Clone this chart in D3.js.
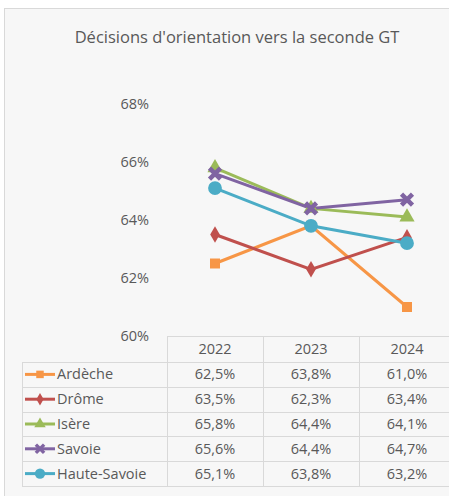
<!DOCTYPE html>
<html>
<head>
<meta charset="utf-8">
<script src="https://cdn.jsdelivr.net/npm/d3@7"></script>
<style>
  body { margin: 0; background: #fff; }
  svg { display: block; font-family: "Open Sans", sans-serif; }
</style>
</head>
<body>
<svg width="449" height="496"></svg>
<script>
// data
const years = ["2022", "2023", "2024"];
const seriesNames = ["Ardèche", "Drôme", "Isère", "Savoie", "Haute-Savoie"];
const ardeche = [62.5, 63.8, 61.0];
const drome = [63.5, 62.3, 63.4];
const isere = [65.8, 64.4, 64.1];
const savoie = [65.6, 64.4, 64.7];
const hauteSavoie = [65.1, 63.8, 63.2];
const yTicks = [60, 62, 64, 66, 68];

const colors = ["#F79646", "#C0504D", "#9BBB59", "#8064A2", "#4BACC6"];
const symbols = [d3.symbolSquare, d3.symbolDiamond, d3.symbolTriangle, d3.symbolCross, d3.symbolCircle];
const symSizes = [100, 80, 100, 0, 150];

const series = [ardeche, drome, isere, savoie, hauteSavoie].map((v, i) => ({
    name: seriesNames[i], values: v, color: colors[i], symbol: symbols[i], size: symSizes[i]
}));

const fr = d3.formatLocale({decimal: ",", thousands: " ", grouping: [3], currency: ["", " €"]});
const fmt = d => fr.format(".1f")(d) + "%";

let svg = d3.select("svg");

// chart box
svg.append("rect")
    .attr("x", 4.5).attr("y", 8.5)
    .attr("width", 460).attr("height", 500)
    .attr("fill", "#f7f7f7")
    .attr("stroke", "#d9d9d9");

svg.append("text")
    .attr("x", 237).attr("y", 43)
    .attr("text-anchor", "middle")
    .style("font-size", "16.5px")
    .attr("fill", "#595959")
    .text("Décisions d'orientation vers la seconde GT");

let xScale = d3.scaleBand().domain(years).range([167, 455]);
let yScale = d3.scaleLinear().domain([60, 68]).range([336, 104]);
let colW = xScale.bandwidth();

// y axis
let yAxis = svg.append("g")
    .attr("transform", "translate(152,0)")
    .call(d3.axisLeft(yScale).tickValues(yTicks).tickSize(0).tickFormat(d => d + "%"));
yAxis.select(".domain").remove();
yAxis.selectAll("text")
    .attr("fill", "#595959")
    .style("font-size", "14.5px")
    .style("font-family", "Open Sans, sans-serif");

// lines
let line = d3.line()
    .x((d, i) => xScale(years[i]) + colW / 2)
    .y(d => yScale(d));

series.forEach(s => {
    svg.append("path")
        .datum(s.values)
        .attr("d", line)
        .attr("fill", "none")
        .attr("stroke", s.color)
        .attr("stroke-width", 3);
});

function drawMarker(g, s, x, y, scale) {
    if (s.symbol === d3.symbolCross) {
        let r = 5.5 * scale;
        g.append("path")
            .attr("d", `M${x - r},${y - r}L${x + r},${y + r}M${x - r},${y + r}L${x + r},${y - r}`)
            .attr("stroke", s.color)
            .attr("stroke-width", 4.5 * scale)
            .attr("fill", "none");
    } else {
        g.append("path")
            .attr("d", d3.symbol().type(s.symbol).size(s.size * scale * scale)())
            .attr("transform", `translate(${x},${y})`)
            .attr("fill", s.color);
    }
}

let markers = svg.append("g");
series.forEach(s => {
    s.values.forEach((v, i) => {
        drawMarker(markers, s, xScale(years[i]) + colW / 2, yScale(v), 1);
    });
});

// data table
const gridColor = "#d9d9d9";
const rowTop = 336, headH = 26, rowH = 24.8;
let table = svg.append("g").attr("stroke", gridColor).attr("stroke-width", 1);
let tableRight = 455;

// horizontal lines
table.append("line").attr("x1", 167).attr("x2", tableRight).attr("y1", rowTop + 0.5).attr("y2", rowTop + 0.5);
seriesNames.concat([""]).forEach((n, i) => {
    let y = Math.round(rowTop + headH + i * rowH) + 0.5;
    table.append("line").attr("x1", 22).attr("x2", tableRight).attr("y1", y).attr("y2", y);
});
let tableBottom = Math.round(rowTop + headH + seriesNames.length * rowH) + 0.5;
// vertical lines
table.append("line").attr("x1", 22.5).attr("x2", 22.5).attr("y1", rowTop + headH).attr("y2", tableBottom);
years.forEach(y => {
    let x = Math.round(xScale(y)) + 0.5;
    table.append("line").attr("x1", x).attr("x2", x).attr("y1", rowTop).attr("y2", tableBottom);
});

// header
svg.selectAll(".year")
    .data(years)
    .enter()
    .append("text")
    .attr("x", d => xScale(d) + colW / 2)
    .attr("y", rowTop + headH / 2 + 5)
    .attr("text-anchor", "middle")
    .style("font-size", "14.5px")
    .attr("fill", "#595959")
    .text(d => d);

// rows
series.forEach((s, r) => {
    let cy = rowTop + headH + r * rowH + rowH / 2;
    svg.append("line")
        .attr("x1", 25).attr("x2", 55).attr("y1", cy).attr("y2", cy)
        .attr("stroke", s.color).attr("stroke-width", 3);
    drawMarker(svg, s, 40, cy, 0.75);
    svg.append("text")
        .attr("x", 57).attr("y", cy + 5)
        .style("font-size", "14.5px")
        .attr("fill", "#595959")
        .text(s.name);
    s.values.forEach((v, i) => {
        svg.append("text")
            .attr("x", xScale(years[i]) + colW / 2)
            .attr("y", cy + 5)
            .attr("text-anchor", "middle")
            .style("font-size", "14.5px")
            .attr("fill", "#595959")
            .text(fmt(v));
    });
});
</script>
</body>
</html>
